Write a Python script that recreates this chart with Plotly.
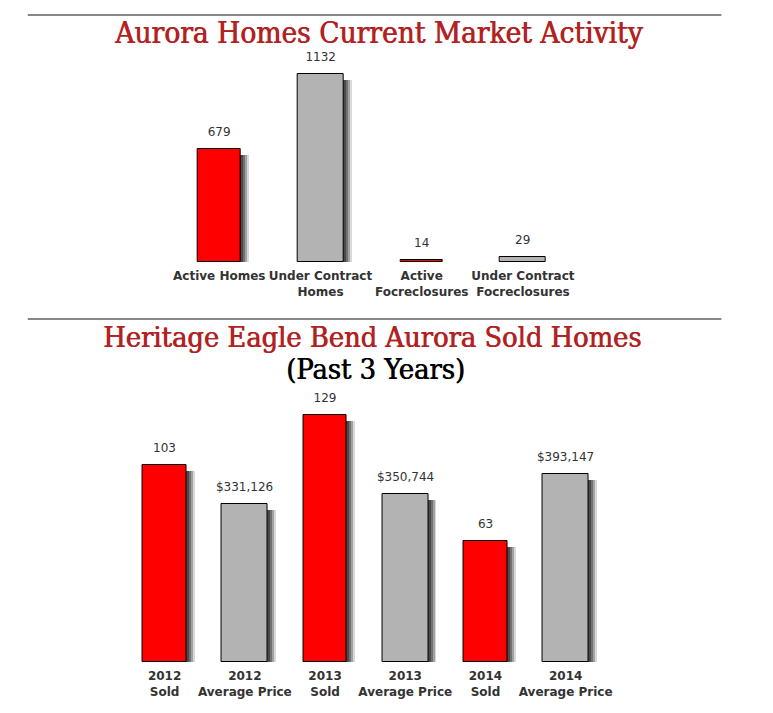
import plotly.graph_objects as go

# ---------------- data ----------------
top_categories = ["Active Homes", "Under Contract<br>Homes", "Active<br>Focreclosures", "Under Contract<br>Focreclosures"]
top_red_cats = ["Active Homes", "Active<br>Focreclosures"]
top_red_vals = [679, 14]
top_gray_cats = ["Under Contract<br>Homes", "Under Contract<br>Focreclosures"]
top_gray_vals = [1132, 29]

bot_categories = ["2012<br>Sold", "2012<br>Average Price", "2013<br>Sold", "2013<br>Average Price", "2014<br>Sold", "2014<br>Average Price"]
sold_cats = ["2012<br>Sold", "2013<br>Sold", "2014<br>Sold"]
sold_vals = [103, 129, 63]
price_cats = ["2012<br>Average Price", "2013<br>Average Price", "2014<br>Average Price"]
price_vals = [331126, 350744, 393147]

title_top = "Aurora Homes Current Market Activity"
title_bot = "Heritage Eagle Bend Aurora Sold Homes"
subtitle_bot = "(Past 3 Years)"

# ---------------- layout helpers ----------------
W, H = 773, 713
def px_x(px): return px / W
def px_y(py): return 1 - py / H

RED = "#FF0000"
GRAY = "#B3B3B3"
TITLE_RED = "#B22222"
LABEL_FONT = dict(family="DejaVu Sans, Verdana", size=12, color="#333333")
TICK_FONT = dict(family="DejaVu Sans, Verdana", size=12, color="#333333", weight="bold")
TITLE_FAMILY = "DejaVu Serif Condensed, Liberation Serif, serif"
SHADOW_PX = 6
LABEL_LIFT_PX = 7

# top plot geometry
top_base_px, top_h = 262, 202
top_max = 1132 * top_h / 188
# bottom plot geometry
bot_base_px, bot_h = 662, 262
sold_max = 129 * bot_h / 247
price_max = 393147 * bot_h / 188

top_cat_px = 102.0
bot_cat_px = 80.8

fig = go.Figure()

def add_bars(cats, vals, color, width, xa, ya_shadow, ya_main, ya_text, cat_px, text):
    # blurred shadow layers (axis shifted down a few pixels)
    for k, op in [(1, 0.35), (2, 0.3), (3, 0.25), (4, 0.15)]:
        fig.add_trace(go.Bar(
            x=cats, y=vals, xaxis=xa, yaxis=ya_shadow,
            width=width, offset=-width / 2 + k * 2.0 / cat_px,
            marker=dict(color=f"rgba(0,0,0,{op})", line=dict(width=0)),
            hoverinfo="skip", showlegend=False))
    fig.add_trace(go.Bar(
        x=cats, y=vals, xaxis=xa, yaxis=ya_main, width=width,
        marker=dict(color=color, line=dict(color="#000000", width=1)),
        showlegend=False))
    # value labels (invisible bar on an axis lifted a few pixels)
    fig.add_trace(go.Bar(
        x=cats, y=vals, xaxis=xa, yaxis=ya_text, width=width,
        marker=dict(color="rgba(0,0,0,0)", line=dict(width=0)),
        text=text, textposition="outside", textangle=0, constraintext="none",
        textfont=LABEL_FONT, outsidetextfont=LABEL_FONT, cliponaxis=False,
        hoverinfo="skip", showlegend=False))

# top chart
add_bars(top_red_cats, top_red_vals, RED, 43 / top_cat_px, "x", "y", "y3", "y7", top_cat_px,
         [str(v) for v in top_red_vals])
add_bars(top_gray_cats, top_gray_vals, GRAY, 46 / top_cat_px, "x", "y", "y3", "y7", top_cat_px,
         [str(v) for v in top_gray_vals])

# bottom chart
add_bars(sold_cats, sold_vals, RED, 44 / bot_cat_px, "x2", "y2", "y5", "y8", bot_cat_px,
         [str(v) for v in sold_vals])
add_bars(price_cats, price_vals, GRAY, 46 / bot_cat_px, "x2", "y4", "y6", "y9", bot_cat_px,
         [f"${v:,}" for v in price_vals])

top_dom = [px_y(top_base_px), px_y(top_base_px - top_h)]
bot_dom = [px_y(bot_base_px), px_y(bot_base_px - bot_h)]

hidden_y = dict(showgrid=False, zeroline=False, showticklabels=False, showline=False, ticks="")

def shifted(mx, hpx, px):
    d = px * mx / hpx
    return [d, mx + d]

fig.update_layout(
    width=W, height=H, margin=dict(l=0, r=0, t=0, b=0),
    paper_bgcolor="white", plot_bgcolor="white",
    barmode="overlay", bargap=0,
    xaxis=dict(domain=[px_x(170), px_x(578)], type="category",
               categoryorder="array", categoryarray=top_categories,
               range=[-0.5, len(top_categories) - 0.5],
               showgrid=False, zeroline=False, showline=False, ticks="",
               ticklabelstandoff=5, tickfont=TICK_FONT, anchor="y"),
    yaxis=dict(domain=top_dom, range=shifted(top_max, top_h, SHADOW_PX), **hidden_y),
    yaxis3=dict(overlaying="y", range=[0, top_max], **hidden_y),
    yaxis7=dict(overlaying="y", range=shifted(top_max, top_h, -LABEL_LIFT_PX), **hidden_y),
    xaxis2=dict(domain=[px_x(125.5), px_x(610.5)], type="category",
                categoryorder="array", categoryarray=bot_categories,
                range=[-0.5, len(bot_categories) - 0.5],
                showgrid=False, zeroline=False, showline=False, ticks="",
                ticklabelstandoff=5, tickfont=TICK_FONT, anchor="y2"),
    yaxis2=dict(domain=bot_dom, range=shifted(sold_max, bot_h, SHADOW_PX), anchor="x2", **hidden_y),
    yaxis4=dict(overlaying="y2", range=shifted(price_max, bot_h, SHADOW_PX), anchor="x2", **hidden_y),
    yaxis5=dict(overlaying="y2", range=[0, sold_max], anchor="x2", **hidden_y),
    yaxis6=dict(overlaying="y2", range=[0, price_max], anchor="x2", **hidden_y),
    yaxis8=dict(overlaying="y2", range=shifted(sold_max, bot_h, -LABEL_LIFT_PX), anchor="x2", **hidden_y),
    yaxis9=dict(overlaying="y2", range=shifted(price_max, bot_h, -LABEL_LIFT_PX), anchor="x2", **hidden_y),
)

fig.add_annotation(text=title_top, x=px_x(381), y=px_y(33), xref="paper", yref="paper",
                   showarrow=False, xanchor="center", yanchor="middle",
                   font=dict(family=TITLE_FAMILY, size=29.5, color=TITLE_RED,
                             shadow=f"0.7px 0px 0px {TITLE_RED}"))
fig.add_annotation(text=title_bot, x=px_x(375), y=px_y(337), xref="paper", yref="paper",
                   showarrow=False, xanchor="center", yanchor="middle",
                   font=dict(family=TITLE_FAMILY, size=28.7, color=TITLE_RED,
                             shadow=f"0.7px 0px 0px {TITLE_RED}"))
fig.add_annotation(text=subtitle_bot, x=px_x(378), y=px_y(369), xref="paper", yref="paper",
                   showarrow=False, xanchor="center", yanchor="middle",
                   font=dict(family=TITLE_FAMILY, size=28.7, color="#000000",
                             shadow="0.7px 0px 0px #000000"))

for ly in (15, 319):
    fig.add_shape(type="line", xref="paper", yref="paper",
                  x0=px_x(28), x1=px_x(727), y0=px_y(ly), y1=px_y(ly),
                  line=dict(color="#888888", width=2))

fig.write_html("out.html")
